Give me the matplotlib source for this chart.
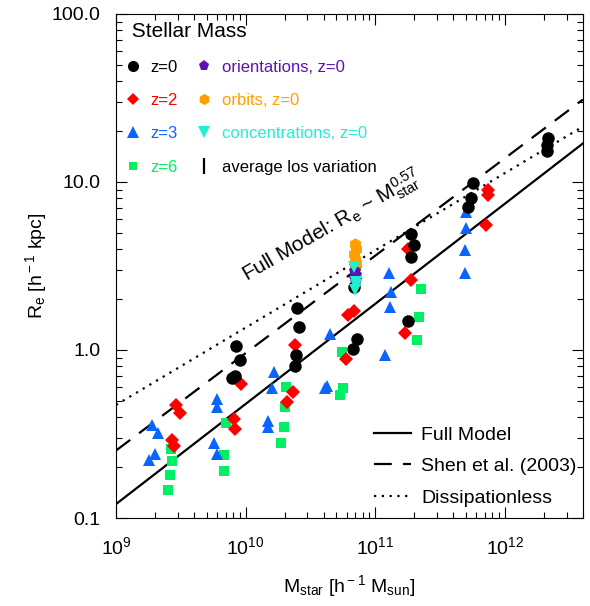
import numpy as np
import matplotlib
matplotlib.use('Agg')
import matplotlib.pyplot as plt
from matplotlib.lines import Line2D
from matplotlib.ticker import LogFormatterMathtext, FixedLocator, NullFormatter

plt.rcParams['font.family'] = ['Liberation Sans', 'DejaVu Sans']
plt.rcParams['mathtext.fontset'] = 'custom'
plt.rcParams['mathtext.rm'] = 'Liberation Sans'
plt.rcParams['mathtext.it'] = 'Liberation Sans:italic'
plt.rcParams['mathtext.bf'] = 'Liberation Sans:bold'

#####################################################################
# data (stellar mass [h^-1 Msun], effective radius [h^-1 kpc])
#####################################################################
z0_mass = [8.5e9, 9.0e9, 8.3e9, 7.9e9,
           2.5e10, 2.6e10, 2.45e10, 2.4e10,
           6.8e10, 7.2e10, 6.7e10,
           1.9e11, 2.0e11, 1.9e11, 1.8e11,
           5.7e11, 5.5e11, 5.2e11,
           2.15e12, 2.12e12, 2.1e12]
z0_re = [1.06, 0.87, 0.70, 0.68,
         1.78, 1.37, 0.94, 0.80,
         2.37, 1.16, 1.01,
         4.9, 4.2, 3.6, 1.49,
         9.8, 8.0, 7.1,
         18.3, 16.5, 15.3]

z2_mass = [2.9e9, 3.1e9, 2.7e9, 2.8e9,
           8.2e9, 8.3e9, 9.2e9,
           2.4e10, 2.3e10, 2.1e10,
           6.2e10, 6.9e10, 5.9e10,
           1.7e11, 1.9e11, 1.8e11,
           7.4e11, 7.4e11, 7.1e11]
z2_re = [0.47, 0.42, 0.29, 0.27,
         0.39, 0.34, 0.63,
         1.07, 0.56, 0.49,
         1.62, 1.71, 0.88,
         1.27, 2.61, 4.0,
         9.0, 8.4, 5.57]

z3_mass = [1.9e9, 2.1e9, 1.8e9, 2.0e9,
           6.0e9, 6.0e9, 5.7e9, 6.0e9,
           1.65e10, 1.6e10, 1.5e10, 1.5e10,
           4.5e10, 4.26e10, 4.1e10,
           1.27e11, 1.33e11, 1.3e11, 1.19e11,
           5.0e11, 4.95e11, 4.95e11, 5.0e11]
z3_re = [0.36, 0.32, 0.22, 0.24,
         0.51, 0.46, 0.28, 0.24,
         0.74, 0.59, 0.38, 0.35,
         1.25, 0.61, 0.59,
         2.86, 2.22, 1.79, 0.94,
         5.3, 3.94, 2.86, 6.66]

z6_mass = [2.64e9, 2.7e9, 2.6e9, 2.5e9,
           7.1e9, 6.8e9, 6.76e9,
           2.03e10, 2.0e10, 1.97e10, 1.88e10,
           5.5e10, 5.6e10, 5.3e10,
           2.26e11, 2.17e11, 2.1e11]
z6_re = [0.257, 0.217, 0.18, 0.146,
         0.37, 0.237, 0.19,
         0.60, 0.46, 0.35, 0.28,
         0.97, 0.59, 0.54,
         2.3, 1.58, 1.14]

orbit_mass = [7.0e10, 7.1e10, 6.9e10, 7.0e10, 7.1e10, 7.0e10]
orbit_re = [4.3, 4.0, 3.75, 3.5, 3.3, 3.1]
orient_mass = [7.0e10, 7.05e10, 7.0e10, 7.05e10]
orient_re = [2.95, 2.8, 2.7, 2.6]
conc_mass = [6.9e10, 7.1e10, 7.1e10, 7.0e10]
conc_re = [3.13, 2.55, 2.45, 2.28]

# power-law relations R = norm * (M / 1e9)^slope
full_norm, full_slope = 0.121, 0.596
shen_norm, shen_slope = 0.252, 0.58
diss_norm, diss_slope = 0.471, 0.46

y_ticks = [0.1, 1.0, 10.0, 100.0]
y_ticklabels = ['0.1', '1.0', '10.0', '100.0']

#####################################################################
# plot
#####################################################################
fig = plt.figure(figsize=(5.9, 6.06), dpi=100)
ax = fig.add_axes([0.1966, 0.1452, 0.7915, 0.8318])
ax.set_xscale('log')
ax.set_yscale('log')
ax.set_xlim(1e9, 4e12)
ax.set_ylim(0.1, 100)

m_line = np.logspace(9, np.log10(4e12), 50)
ax.plot(m_line, full_norm * (m_line / 1e9) ** full_slope, color='black', lw=1.6, zorder=1)
ax.plot(m_line, shen_norm * (m_line / 1e9) ** shen_slope, color='black', lw=1.6,
        dashes=(8, 5), zorder=1)
ax.plot(m_line, diss_norm * (m_line / 1e9) ** diss_slope, color='black', lw=1.6,
        dashes=(1, 2.5), zorder=1)

c_z0, c_z2, c_z3, c_z6 = 'black', '#ff0000', '#0a64ff', '#00f064'
c_orient, c_orbit, c_conc = '#5a14b4', '#ffa000', '#1ef0d2'

ax.plot(z6_mass, z6_re, 's', color=c_z6, ms=6.5, mew=0, zorder=2)
ax.plot(z3_mass, z3_re, '^', color=c_z3, ms=9, mew=0, zorder=3)
ax.plot(z2_mass, z2_re, 'D', color=c_z2, ms=7, mew=0, zorder=4)
ax.plot(z0_mass, z0_re, 'o', color=c_z0, ms=9, mew=0, zorder=5)
ax.plot(orbit_mass, orbit_re, 'h', color=c_orbit, ms=9, mew=0, zorder=6)
ax.plot(orient_mass, orient_re, 'p', color=c_orient, ms=9, mew=0, zorder=7)
ax.plot(conc_mass, conc_re, 'v', color=c_conc, ms=9, mew=0, zorder=8)

# axes styling
ax.tick_params(which='both', direction='in', top=True, right=True, width=0.8)
ax.tick_params(which='major', length=8, labelsize=14)
ax.tick_params(which='minor', length=4)
ax.tick_params(axis='x', which='major', pad=13)
ax.tick_params(axis='y', which='major', pad=11)
ax.xaxis.set_major_formatter(LogFormatterMathtext())
ax.yaxis.set_major_locator(FixedLocator(y_ticks))
ax.set_yticklabels(y_ticklabels)
ax.yaxis.set_minor_formatter(NullFormatter())
for sp in ax.spines.values():
    sp.set_linewidth(0.8)

ax.set_xlabel(r'M$_{\rm star}$ [h$^{\rm -1}$ M$_{\rm sun}$]', fontsize=14, labelpad=11)
ax.set_ylabel(r'R$_{\rm e}$ [h$^{\rm -1}$ kpc]', fontsize=14, labelpad=2)

ax.text(1.1e10, 2.3, r'Full Model: R$_{\rm e}$ ~ M$_{\rm star}^{\rm 0.57}$', fontsize=15,
        rotation=30, rotation_mode='anchor', ha='left', va='bottom')

# legends
def mk(marker, color, ms=8):
    return Line2D([], [], ls='none', marker=marker, color=color, ms=ms, mew=0)

handles = [mk('o', c_z0), mk('D', c_z2, 6.5), mk('^', c_z3), mk('s', c_z6, 6),
           mk('p', c_orient), mk('h', c_orbit), mk('v', c_conc),
           Line2D([], [], ls='none', marker='|', color='black', ms=12, mew=1.6)]
labels = ['z=0', 'z=2', 'z=3', 'z=6',
          'orientations, z=0', 'orbits, z=0', 'concentrations, z=0', 'average los variation']
leg1 = ax.legend(handles, labels, loc='upper left', ncol=2, frameon=False,
                 fontsize=12, title=' Stellar Mass', title_fontsize=15,
                 alignment='left', handlelength=0.8, handletextpad=0.65,
                 columnspacing=1.2, labelspacing=1.1,
                 labelcolor=[c_z0, c_z2, c_z3, c_z6, c_orient, c_orbit, c_conc, 'black'],
                 borderaxespad=0.4, bbox_to_anchor=(-0.007, 1.01))
ax.add_artist(leg1)

line_handles = [Line2D([], [], color='black', lw=1.6),
                Line2D([], [], color='black', lw=1.6, dashes=(8, 5)),
                Line2D([], [], color='black', lw=1.6, dashes=(1, 2.5))]
ax.legend(line_handles, ['Full Model', 'Shen et al. (2003)', 'Dissipationless'],
          loc='lower right', frameon=False, fontsize=14, handlelength=1.9,
          handletextpad=0.5, labelspacing=0.72, borderaxespad=0.8,
          bbox_to_anchor=(1.036, -0.024))

fig.savefig('out.png', dpi=100)
